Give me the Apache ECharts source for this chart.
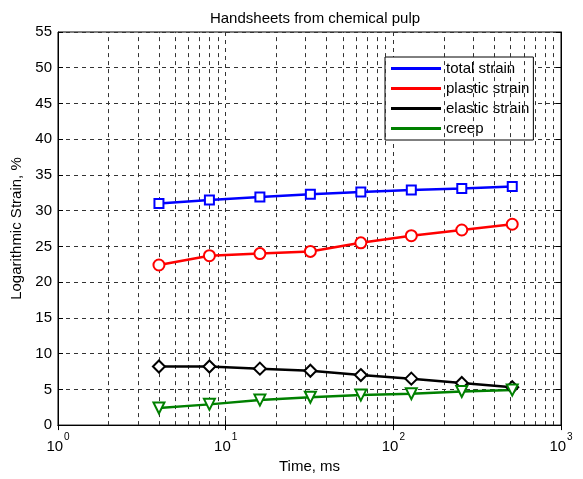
<!DOCTYPE html>
<html>
<head>
<meta charset="utf-8">
<script src="https://cdn.jsdelivr.net/npm/echarts@6/dist/echarts.min.js"></script>
<style>
  html, body { margin: 0; padding: 0; background: #fff; }
  #chart { width: 583px; height: 479px; }
</style>
</head>
<body>
<div id="chart"></div>
<script>
// time points (ms) where strain was measured
const times = [4, 8, 16, 32, 64, 128, 256, 512]
const totalStrain = [31.0, 31.5, 31.9, 32.3, 32.6, 32.9, 33.1, 33.4]
const plasticStrain = [22.4, 23.7, 24.0, 24.3, 25.5, 26.5, 27.3, 28.1]
const elasticStrain = [8.2, 8.2, 7.9, 7.6, 7.0, 6.5, 5.9, 5.3]
const creep = [2.4, 2.9, 3.5, 3.9, 4.2, 4.4, 4.7, 4.9]
// minor log grid lines
const minorGrid = [2, 3, 4, 5, 6, 7, 8, 9, 20, 30, 40, 50, 60, 70, 80, 90, 200, 300, 400, 500, 600, 700, 800, 900]
const supers = { 1: '0', 10: '1', 100: '2', 1000: '3' }

const font = 'Liberation Sans, Arial, sans-serif'
const fs = 15
const dash = { color: '#333', width: 1, type: [4, 4] }

const pairs = (ys) => times.map((t, i) => [t, ys[i]])

const mkSeries = (name, ys, color, symbol, size, rotate) => ({
  name,
  type: 'line',
  data: pairs(ys),
  symbol,
  symbolSize: size,
  symbolRotate: rotate || 0,
  showAllSymbol: true,
  lineStyle: { color, width: 2.5 },
  itemStyle: { color, borderColor: color, borderWidth: 2 },
  z: 5,
})

const boxAxis = {
  axisLine: { show: true, lineStyle: { color: '#000', width: 1 } },
  axisTick: { show: true, inside: true, length: 5, lineStyle: { color: '#000' } },
  axisLabel: { show: false },
  splitLine: { show: false },
}

const chart = echarts.init(document.getElementById('chart'))
chart.setOption({
  animation: false,
  backgroundColor: '#fff',
  textStyle: { fontFamily: font },
  title: {
    text: 'Handsheets from chemical pulp',
    left: 310,
    textAlign: 'center',
    top: 6,
    textStyle: { fontSize: fs, fontWeight: 'normal', color: '#000', fontFamily: font },
  },
  grid: {
    left: 58, right: 22, top: 32, bottom: 52,
    show: true, borderColor: '#000', borderWidth: 1, backgroundColor: '#fff',
  },
  legend: {
    orient: 'vertical',
    left: 385, top: 57,
    backgroundColor: '#fff',
    borderColor: '#000', borderWidth: 1,
    padding: [4, 4, 4, 6],
    itemGap: 5,
    itemWidth: 50, itemHeight: 3,
    icon: 'rect',
    itemStyle: { borderWidth: 0 },
    textStyle: { fontSize: fs, color: '#000', fontFamily: font },
    data: ['total strain', 'plastic strain', 'elastic strain', 'creep'],
  },
  xAxis: [
    {
      type: 'log',
      logBase: 10,
      min: 1, max: 1000,
      name: 'Time, ms',
      nameLocation: 'middle',
      nameGap: 32,
      nameTextStyle: { fontSize: fs, color: '#000', fontFamily: font },
      axisLine: { lineStyle: { color: '#000', width: 1 } },
      axisTick: { inside: true, length: 5, lineStyle: { color: '#000' } },
      splitLine: { show: true, lineStyle: dash },
      axisLabel: {
        margin: 5,
        formatter: (v) => '{b|10}{s|' + (supers[Math.round(v)] || '') + '}',
        rich: {
          b: { fontSize: fs, color: '#000', fontFamily: font, lineHeight: 24, verticalAlign: 'bottom' },
          s: { fontSize: 10, color: '#000', fontFamily: font, verticalAlign: 'top', padding: [2, 0, 0, 1] },
        },
      },
    },
    Object.assign({ type: 'log', logBase: 10, min: 1, max: 1000, position: 'top' }, boxAxis),
  ],
  yAxis: [
    {
      type: 'value',
      min: 0, max: 55, interval: 5,
      name: 'Logarithmic Strain, %',
      nameLocation: 'middle',
      nameGap: 31,
      nameTextStyle: { fontSize: fs, color: '#000', fontFamily: font },
      axisLine: { show: true, lineStyle: { color: '#000', width: 1 } },
      axisTick: { show: true, inside: true, length: 5, lineStyle: { color: '#000' } },
      splitLine: { show: true, lineStyle: dash },
      axisLabel: { fontSize: fs, color: '#000', margin: 6, fontFamily: font },
    },
    Object.assign({ type: 'value', min: 0, max: 55, interval: 5, position: 'right' }, boxAxis),
  ],
  series: [
    {
      name: 'grid',
      type: 'line',
      data: [],
      silent: true,
      z: 1,
      markLine: {
        silent: true,
        symbol: 'none',
        label: { show: false },
        lineStyle: dash,
        data: minorGrid.map((v) => ({ xAxis: v })),
      },
    },
    mkSeries('total strain', totalStrain, '#0000ff', 'emptyRect', 9),
    mkSeries('plastic strain', plasticStrain, '#ff0000', 'emptyCircle', 11),
    mkSeries('elastic strain', elasticStrain, '#000000', 'emptyDiamond', 12),
    mkSeries('creep', creep, '#008000', 'emptyTriangle', 11, 180),
  ],
})
</script>
</body>
</html>
